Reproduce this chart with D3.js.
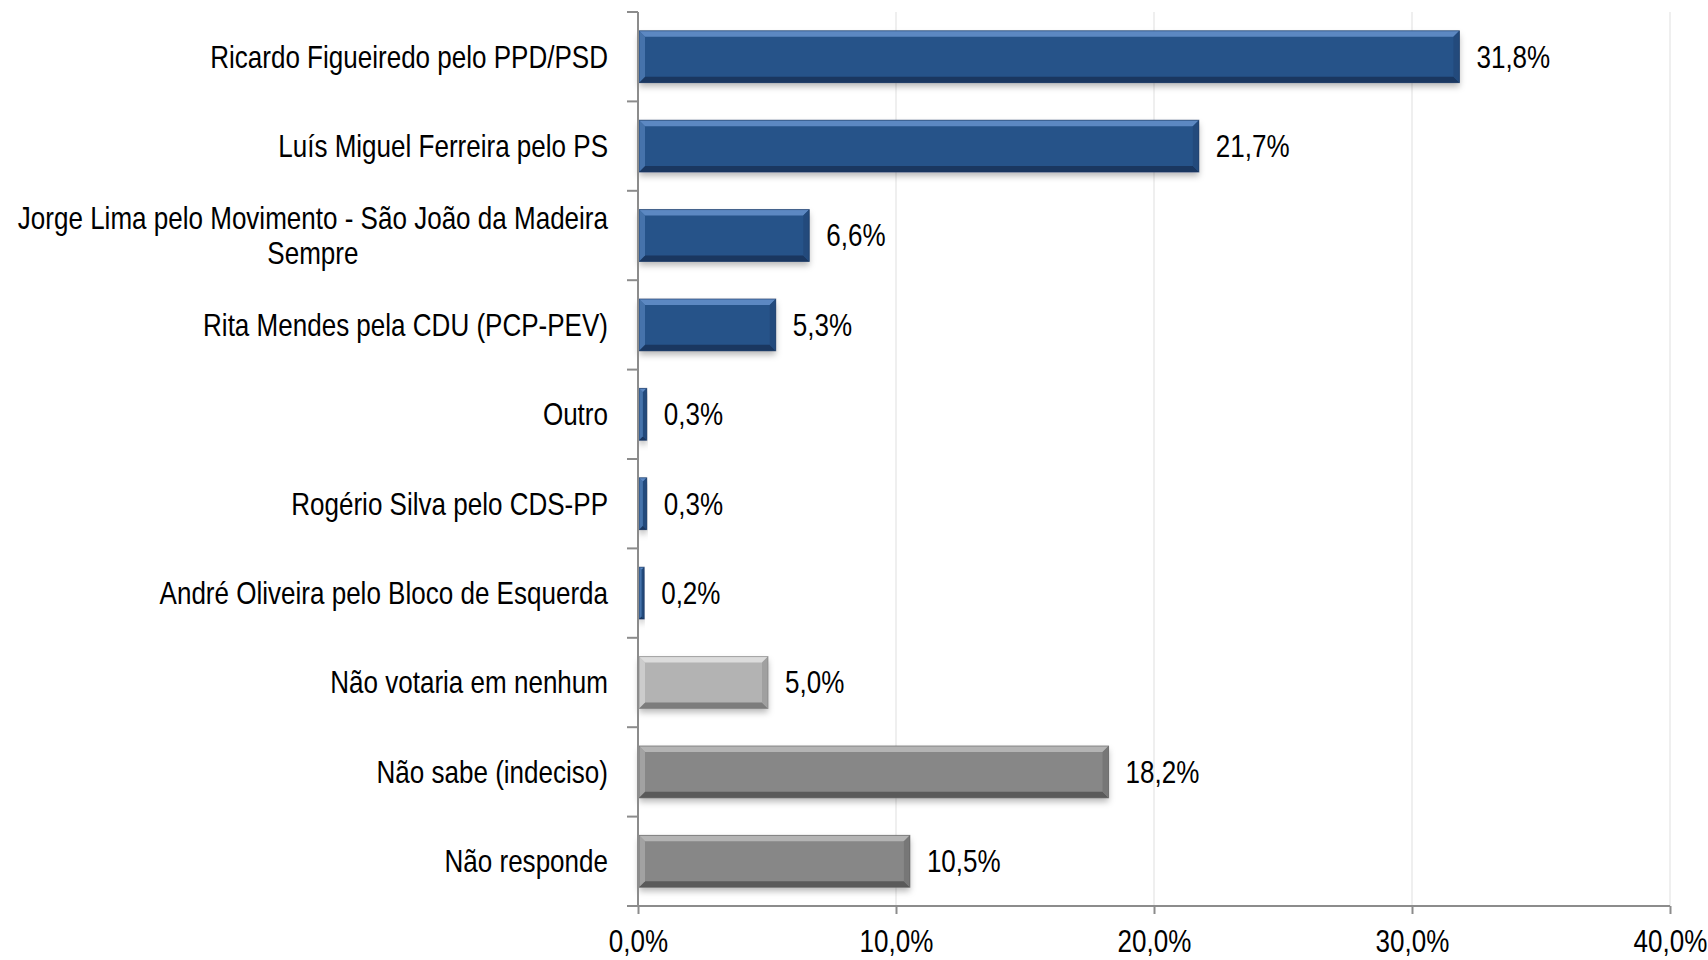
<!DOCTYPE html>
<html>
<head>
<meta charset="utf-8">
<script src="https://cdn.jsdelivr.net/npm/d3@7"></script>
<style>
  html, body { margin: 0; padding: 0; background: #fff; }
  svg text { font-family: 'Liberation Sans', Arial, sans-serif; fill: #000; }
</style>
</head>
<body>
<svg id="chart"></svg>
<script>
const categories = [
  'Ricardo Figueiredo pelo PPD/PSD',
  'Luís Miguel Ferreira pelo PS',
  'Jorge Lima pelo Movimento - São João da Madeira|Sempre',
  'Rita Mendes pela CDU (PCP-PEV)',
  'Outro',
  'Rogério Silva pelo CDS-PP',
  'André Oliveira pelo Bloco de Esquerda',
  'Não votaria em nenhum',
  'Não sabe (indeciso)',
  'Não responde'
];
const values = [31.8, 21.7, 6.6, 5.3, 0.3, 0.3, 0.2, 5.0, 18.2, 10.5];
const groups = ['cand', 'cand', 'cand', 'cand', 'cand', 'cand', 'cand', 'none', 'undecided', 'undecided'];
const xTicks = [0, 10, 20, 30, 40];

const palette = {
  cand: { main: '#285289', light: '#5c88c2', dark: '#1a3760', side: '#234a7c' },
  none: { main: '#b3b3b3', light: '#dcdcdc', dark: '#7d7d7d', side: '#a0a0a0' },
  undecided: { main: '#878787', light: '#b4b4b4', dark: '#5a5a5a', side: '#777777' }
};

const W = 1708, H = 960;
const margin = { top: 12, right: 38, bottom: 54, left: 638 };
const width = W - margin.left - margin.right;
const height = H - margin.top - margin.bottom;

// condensed look (Arial Narrow is not available)
const fontSize = 31;
const narrow = 0.84;

const locale = d3.formatLocale({ decimal: ',', thousands: '.', grouping: [3], currency: ['', '€'] });
const fmt = locale.format('.1f');

const svgRoot = d3.select('#chart').attr('width', W).attr('height', H);

const defs = svgRoot.append('defs');
const shadow = defs.append('filter').attr('id', 'shadow')
  .attr('x', '-5%').attr('y', '-20%').attr('width', '110%').attr('height', '160%');
shadow.append('feDropShadow')
  .attr('dx', 0).attr('dy', 4).attr('stdDeviation', 3)
  .attr('flood-color', '#000').attr('flood-opacity', 0.28);

const svg = svgRoot.append('g')
  .attr('transform', `translate(${margin.left},${margin.top})`);

const x = d3.scaleLinear().domain([0, 40]).range([0, width]);
const y = d3.scaleBand().domain(categories).range([0, height])
  .paddingInner(0.42).paddingOuter(0.21);

// gridlines
svg.append('g').selectAll('line')
  .data(xTicks.slice(1))
  .enter().append('line')
  .attr('x1', d => x(d)).attr('x2', d => x(d))
  .attr('y1', 0).attr('y2', height)
  .attr('stroke', '#e4e4e4').attr('stroke-width', 1.2);

// bars with bevel
const bevel = 6;
const bars = svg.append('g').selectAll('g')
  .data(categories.map((c, i) => ({ c, v: values[i], g: groups[i] })))
  .enter().append('g')
  .attr('transform', d => `translate(${x(0) + 1},${y(d.c)})`);

bars.each(function (d) {
  const g = d3.select(this);
  const w = Math.max(x(d.v) - x(0), 1.5);
  const h = y.bandwidth();
  const p = palette[d.g];
  const b = Math.min(bevel, w / 2);
  g.append('rect').attr('width', w).attr('height', h)
    .attr('fill', p.main).attr('filter', 'url(#shadow)');
  // top highlight
  g.append('polygon')
    .attr('points', `0,0 ${w},0 ${w - b},${b} ${b},${b}`)
    .attr('fill', p.light);
  // bottom dark edge
  g.append('polygon')
    .attr('points', `0,${h} ${w},${h} ${w - b},${h - b} ${b},${h - b}`)
    .attr('fill', p.dark);
  // right edge
  g.append('polygon')
    .attr('points', `${w},0 ${w},${h} ${w - b},${h - b} ${w - b},${b}`)
    .attr('fill', p.side);
  // left edge
  g.append('polygon')
    .attr('points', `0,0 0,${h} ${b},${h - b} ${b},${b}`)
    .attr('fill', p.light).attr('opacity', 0.6);
  g.append('rect').attr('width', w).attr('height', h)
    .attr('fill', 'none').attr('stroke', p.dark).attr('stroke-opacity', 0.6).attr('stroke-width', 1);
});

// value labels
svg.append('g').selectAll('g')
  .data(categories.map((c, i) => ({ c, v: values[i] })))
  .enter().append('g')
  .attr('transform', d => `translate(${x(d.v) + 18},${y(d.c) + y.bandwidth() / 2}) scale(${narrow},1)`)
  .append('text')
  .attr('dy', '0.35em')
  .style('font-size', fontSize + 'px')
  .text(d => fmt(d.v) + '%');

// y axis line and ticks at category boundaries
const axisColor = '#8c8c8c';
svg.append('line')
  .attr('x1', x(0)).attr('x2', x(0)).attr('y1', 0).attr('y2', height)
  .attr('stroke', axisColor).attr('stroke-width', 2);
svg.append('g').selectAll('line')
  .data(d3.range(categories.length + 1))
  .enter().append('line')
  .attr('x1', -11).attr('x2', 0)
  .attr('y1', i => i * y.step()).attr('y2', i => i * y.step())
  .attr('stroke', axisColor).attr('stroke-width', 2);

// x axis
const xAxis = svg.append('g')
  .attr('transform', `translate(0,${height})`)
  .call(d3.axisBottom(x).tickValues(xTicks).tickSize(8).tickPadding(16)
    .tickFormat(d => fmt(d) + '%'));
xAxis.select('.domain').attr('stroke', axisColor).attr('stroke-width', 2)
  .attr('d', `M-11,0H${width}`);
xAxis.selectAll('.tick line').attr('stroke', axisColor).attr('stroke-width', 2);
xAxis.selectAll('.tick text')
  .style('font-size', fontSize + 'px')
  .style('font-family', "'Liberation Sans', Arial, sans-serif")
  .attr('fill', '#000')
  .attr('transform', `scale(${narrow},1)`);

// category labels
const labelX = -30;
const labels = svg.append('g').selectAll('g')
  .data(categories)
  .enter().append('g')
  .attr('transform', d => `translate(${labelX},${y(d) + y.bandwidth() / 2}) scale(${narrow},1)`);

labels.each(function (d) {
  const g = d3.select(this);
  const lines = d.split('|');
  if (lines.length === 1) {
    g.append('text').attr('text-anchor', 'end').attr('dy', '0.35em')
      .style('font-size', fontSize + 'px').text(lines[0]);
  } else {
    const lh = 35;
    const first = g.append('text').attr('text-anchor', 'end')
      .attr('y', -lh / 2).attr('dy', '0.35em')
      .style('font-size', fontSize + 'px').text(lines[0]);
    const wFirst = first.node().getComputedTextLength();
    g.append('text').attr('text-anchor', 'middle')
      .attr('x', -wFirst / 2)
      .attr('y', lh / 2).attr('dy', '0.35em')
      .style('font-size', fontSize + 'px').text(lines[1]);
  }
});
</script>
</body>
</html>
